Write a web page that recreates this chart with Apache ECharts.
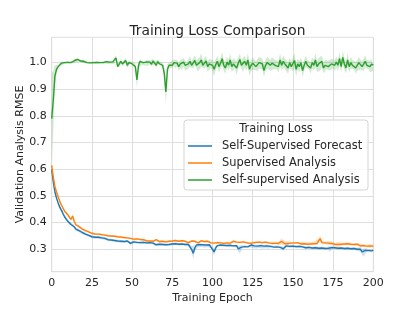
<!DOCTYPE html>
<html><head><meta charset="utf-8">
<script src="https://cdn.jsdelivr.net/npm/echarts@6/dist/echarts.min.js"></script>
<style>html,body{margin:0;padding:0;background:#fff}#c{width:415px;height:312px}</style>
</head><body><div id="c"></div>
<script>
// ---------- data ----------
const xTicks = [0, 25, 50, 75, 100, 125, 150, 175, 200];
const yTicks = [0.3, 0.4, 0.5, 0.6, 0.7, 0.8, 0.9, 1.0];
const seriesNames = ['Self-Supervised Forecast', 'Supervised Analysis', 'Self-supervised Analysis'];

const blueVals = [
0.6,0.552,0.515,0.492,0.474,0.458,0.447,0.434,0.422,0.416,
0.405,0.399,0.393,0.396,0.384,0.376,0.374,0.37,0.366,0.363,
0.36,0.357,0.354,0.352,0.35,0.347,0.348,0.345,0.343,0.345,
0.341,0.343,0.339,0.341,0.338,0.336,0.339,0.335,0.337,0.333,
0.335,0.331,0.334,0.33,0.333,0.329,0.326,0.331,0.327,0.322,
0.325,0.328,0.323,0.326,0.321,0.325,0.322,0.326,0.32,0.324,
0.321,0.325,0.319,0.323,0.32,0.317,0.322,0.319,0.323,0.318,
0.321,0.317,0.322,0.318,0.315,0.32,0.317,0.321,0.316,0.319,
0.315,0.32,0.316,0.318,0.314,0.318,0.312,0.3,0.285,0.305,
0.316,0.313,0.318,0.314,0.317,0.312,0.316,0.313,0.317,0.311,
0.3,0.29,0.305,0.314,0.311,0.316,0.312,0.315,0.31,0.314,
0.311,0.315,0.309,0.313,0.31,0.314,0.302,0.296,0.308,0.313,
0.31,0.314,0.309,0.313,0.316,0.31,0.313,0.308,0.312,0.31,
0.314,0.308,0.312,0.309,0.313,0.307,0.311,0.314,0.308,0.312,
0.309,0.313,0.307,0.311,0.302,0.309,0.313,0.307,0.311,0.308,
0.312,0.306,0.31,0.307,0.311,0.305,0.309,0.312,0.306,0.31,
0.307,0.311,0.305,0.309,0.306,0.31,0.304,0.308,0.305,0.309,
0.303,0.307,0.304,0.298,0.306,0.302,0.306,0.3,0.304,0.301,
0.305,0.299,0.303,0.3,0.304,0.298,0.302,0.299,0.303,0.297,
0.3,0.296,0.3,0.29,0.284,0.296,0.299,0.295,0.298,0.294,0.297];
const blueBand = [
0.012,0.01,0.008,0.007,0.007,0.007,0.007,0.007,0.007,0.007,
0.007,0.007,0.007,0.007,0.007,0.006,0.006,0.006,0.006,0.006,
0.005,0.005,0.005,0.005,0.005,0.005,0.005,0.005,0.005,0.005,
0.005,0.005,0.005,0.005,0.005,0.005,0.005,0.005,0.005,0.005,
0.005,0.005,0.005,0.005,0.005,0.005,0.006,0.005,0.005,0.006,
0.005,0.005,0.005,0.005,0.005,0.005,0.005,0.005,0.005,0.005,
0.005,0.005,0.005,0.005,0.005,0.005,0.005,0.005,0.005,0.005,
0.005,0.005,0.005,0.005,0.005,0.005,0.005,0.005,0.005,0.005,
0.005,0.005,0.005,0.005,0.005,0.006,0.008,0.012,0.02,0.01,
0.006,0.005,0.005,0.005,0.005,0.005,0.005,0.005,0.005,0.006,
0.01,0.012,0.008,0.005,0.005,0.005,0.005,0.005,0.005,0.005,
0.005,0.005,0.005,0.005,0.005,0.006,0.01,0.012,0.006,0.005,
0.005,0.005,0.005,0.005,0.005,0.005,0.005,0.005,0.005,0.005,
0.005,0.005,0.005,0.005,0.005,0.005,0.005,0.005,0.005,0.005,
0.005,0.005,0.006,0.006,0.008,0.006,0.005,0.005,0.005,0.005,
0.005,0.005,0.005,0.005,0.005,0.005,0.005,0.005,0.005,0.005,
0.005,0.005,0.005,0.005,0.005,0.005,0.006,0.006,0.005,0.005,
0.005,0.005,0.006,0.008,0.006,0.005,0.005,0.006,0.005,0.005,
0.005,0.006,0.005,0.006,0.005,0.006,0.005,0.006,0.005,0.006,
0.006,0.006,0.008,0.01,0.012,0.008,0.006,0.006,0.006,0.006,0.006];

const orangeVals = [
0.615,0.57,0.535,0.515,0.497,0.48,0.466,0.455,0.443,0.436,
0.43,0.42,0.412,0.425,0.405,0.392,0.388,0.385,0.38,0.376,
0.373,0.37,0.366,0.365,0.362,0.36,0.358,0.357,0.356,0.357,
0.354,0.355,0.352,0.353,0.35,0.351,0.348,0.35,0.346,0.349,
0.345,0.347,0.343,0.346,0.341,0.344,0.34,0.343,0.339,0.341,
0.337,0.338,0.336,0.339,0.335,0.337,0.333,0.336,0.334,0.332,
0.335,0.331,0.334,0.33,0.333,0.336,0.331,0.329,0.333,0.33,
0.334,0.328,0.332,0.33,0.327,0.331,0.329,0.333,0.327,0.33,
0.328,0.332,0.326,0.33,0.328,0.325,0.329,0.331,0.326,0.33,
0.327,0.324,0.328,0.332,0.326,0.329,0.325,0.33,0.327,0.324,
0.328,0.323,0.327,0.325,0.329,0.324,0.327,0.322,0.326,0.324,
0.328,0.323,0.326,0.33,0.324,0.327,0.322,0.326,0.324,0.328,
0.323,0.325,0.327,0.322,0.326,0.324,0.321,0.326,0.323,0.327,
0.322,0.325,0.323,0.327,0.321,0.324,0.326,0.322,0.325,0.323,
0.328,0.322,0.326,0.33,0.324,0.321,0.325,0.322,0.326,0.323,
0.32,0.324,0.321,0.325,0.322,0.32,0.324,0.321,0.323,0.319,
0.323,0.32,0.324,0.321,0.326,0.322,0.332,0.34,0.325,0.321,
0.324,0.32,0.323,0.319,0.322,0.325,0.319,0.322,0.318,0.322,
0.319,0.315,0.32,0.317,0.321,0.316,0.319,0.314,0.318,0.315,
0.319,0.316,0.313,0.317,0.314,0.316,0.312,0.315,0.313,0.316,0.312];
const orangeBand = [
0.01,0.008,0.007,0.006,0.006,0.006,0.006,0.006,0.006,0.006,
0.006,0.006,0.006,0.008,0.006,0.005,0.005,0.005,0.005,0.005,
0.004,0.004,0.004,0.004,0.004,0.004,0.004,0.004,0.004,0.004,
0.004,0.004,0.004,0.004,0.004,0.004,0.004,0.004,0.004,0.004,
0.004,0.004,0.004,0.004,0.004,0.004,0.004,0.004,0.004,0.004,
0.004,0.004,0.004,0.004,0.004,0.004,0.004,0.004,0.004,0.004,
0.004,0.004,0.004,0.004,0.004,0.004,0.004,0.004,0.004,0.004,
0.004,0.004,0.004,0.004,0.004,0.004,0.004,0.004,0.004,0.004,
0.004,0.004,0.004,0.004,0.004,0.004,0.004,0.004,0.004,0.004,
0.004,0.004,0.004,0.004,0.004,0.004,0.004,0.004,0.004,0.004,
0.004,0.004,0.004,0.004,0.004,0.004,0.004,0.004,0.004,0.004,
0.004,0.004,0.004,0.005,0.004,0.004,0.004,0.004,0.004,0.004,
0.004,0.004,0.004,0.004,0.004,0.004,0.004,0.004,0.004,0.004,
0.004,0.004,0.004,0.004,0.004,0.004,0.004,0.004,0.004,0.004,
0.005,0.006,0.008,0.012,0.01,0.008,0.006,0.005,0.004,0.004,
0.004,0.004,0.004,0.004,0.004,0.004,0.004,0.004,0.004,0.004,
0.004,0.004,0.004,0.005,0.006,0.006,0.01,0.012,0.006,0.004,
0.005,0.006,0.008,0.01,0.008,0.006,0.006,0.008,0.01,0.008,
0.006,0.006,0.005,0.005,0.006,0.005,0.005,0.006,0.005,0.005,
0.005,0.005,0.006,0.005,0.005,0.006,0.005,0.005,0.006,0.005,0.005];

const greenVals = [
0.79,0.86,0.95,0.975,0.985,0.992,0.998,0.996,1.0,1.003,
1.001,1.004,1.0,1.003,1.007,1.005,1.012,1.008,1.006,1.004,
1.005,1.002,1.0,1.001,0.999,1.0,1.0,0.999,1.001,1.0,
1.0,1.002,1.0,1.001,1.004,0.999,1.002,0.998,1.003,1.0,
1.018,0.985,0.99,1.005,0.995,1.0,1.008,0.99,1.0,1.005,
0.995,1.002,0.985,0.935,0.99,1.005,0.998,1.0,0.995,1.003,
0.996,1.002,0.994,1.006,1.0,0.99,1.004,0.995,1.0,0.99,
0.96,0.89,0.975,0.99,0.995,0.99,1.0,0.993,0.998,0.985,
0.995,0.99,1.002,0.99,0.985,0.995,1.005,0.99,0.997,1.008,
0.99,0.985,1.0,1.01,0.99,0.998,1.006,0.985,0.995,1.0,
0.99,0.975,0.992,1.005,0.985,0.998,1.015,0.99,0.98,1.002,
0.99,1.01,0.985,0.995,1.0,0.98,0.998,1.012,0.99,0.985,
1.005,0.99,1.01,0.975,0.99,0.998,0.995,0.985,0.99,1.0,
1.002,0.995,0.97,0.99,1.0,0.995,0.99,0.998,1.0,0.99,
0.995,0.985,1.01,0.99,1.005,0.995,0.99,0.98,1.0,0.985,
0.99,1.008,0.975,0.995,0.985,1.0,0.97,0.99,1.005,0.99,
0.995,0.98,1.0,0.99,1.01,0.985,0.995,0.99,1.005,0.98,
0.99,0.995,0.985,0.99,0.995,1.0,0.99,1.002,0.99,1.015,
0.985,1.02,0.995,0.98,1.01,0.985,1.0,0.99,0.995,0.98,
0.99,1.0,0.995,0.985,0.99,1.005,0.99,0.995,0.985,0.995,0.99];
const greenBand = [
0.17,0.11,0.04,0.015,0.006,0.005,0.004,0.004,0.004,0.004,
0.004,0.004,0.004,0.004,0.004,0.004,0.004,0.004,0.004,0.004,
0.004,0.004,0.004,0.004,0.004,0.004,0.004,0.004,0.004,0.004,
0.004,0.004,0.004,0.004,0.004,0.004,0.004,0.004,0.004,0.004,
0.01,0.01,0.008,0.008,0.008,0.006,0.008,0.01,0.008,0.006,
0.008,0.008,0.012,0.03,0.012,0.008,0.006,0.008,0.006,0.008,
0.008,0.006,0.008,0.008,0.006,0.01,0.008,0.008,0.006,0.01,
0.025,0.045,0.02,0.01,0.008,0.01,0.012,0.015,0.012,0.015,
0.015,0.018,0.015,0.02,0.015,0.018,0.02,0.015,0.02,0.018,
0.02,0.018,0.02,0.025,0.018,0.02,0.02,0.018,0.02,0.02,
0.02,0.025,0.02,0.02,0.022,0.02,0.025,0.02,0.022,0.02,
0.02,0.025,0.02,0.022,0.02,0.025,0.02,0.022,0.02,0.02,
0.022,0.02,0.025,0.025,0.02,0.02,0.022,0.02,0.02,0.022,
0.02,0.02,0.025,0.02,0.022,0.02,0.02,0.022,0.025,0.02,
0.02,0.022,0.025,0.02,0.022,0.02,0.025,0.022,0.02,0.02,
0.022,0.025,0.025,0.02,0.022,0.02,0.025,0.02,0.022,0.02,
0.02,0.022,0.02,0.02,0.025,0.02,0.022,0.02,0.022,0.02,
0.02,0.02,0.022,0.02,0.02,0.022,0.02,0.02,0.022,0.025,
0.02,0.025,0.022,0.02,0.025,0.02,0.022,0.02,0.02,0.022,
0.02,0.02,0.022,0.02,0.02,0.022,0.02,0.02,0.022,0.02,0.02];

const epochs = blueVals.map((_, i) => String(i));

// ---------- chart ----------
const FONT = 'DejaVu Sans';
const TXT = '#262626';
const GRID = '#dedede';
const colors = ['#1f77b4', '#ff7f0e', '#2ca02c'];
const valsList = [blueVals, orangeVals, greenVals];
const bandList = [blueBand, orangeBand, greenBand];

const series = [];
valsList.forEach((vals, k) => {
  const band = bandList[k];
  series.push({
    type: 'line', stack: 'band' + k, symbol: 'none', silent: true,
    lineStyle: { opacity: 0 },
    data: vals.map((v, i) => +(v - band[i]).toFixed(4))
  });
  series.push({
    type: 'line', stack: 'band' + k, symbol: 'none', silent: true,
    lineStyle: { opacity: 0 },
    areaStyle: { color: colors[k], opacity: 0.22 },
    data: band.map(b => +(2 * b).toFixed(4))
  });
});
valsList.forEach((vals, k) => {
  series.push({
    name: seriesNames[k], type: 'line', symbol: 'none', silent: true,
    lineStyle: { color: colors[k], width: 1.4 },
    itemStyle: { color: colors[k] },
    data: vals
  });
});

const chart = echarts.init(document.getElementById('c'), null, { renderer: 'canvas' });
chart.setOption({
  animation: false,
  backgroundColor: '#fff',
  textStyle: { fontFamily: FONT },
  title: {
    text: 'Training Loss Comparison', left: 212.5, top: 19, textAlign: 'center',
    textStyle: { fontFamily: FONT, fontSize: 13.8, fontWeight: 'normal', color: TXT }
  },
  grid: { left: 51.7, right: 41.7, top: 37.3, bottom: 40.3, containLabel: false,
          show: true, borderColor: GRID, borderWidth: 1, backgroundColor: 'transparent' },
  xAxis: {
    type: 'category', data: epochs, boundaryGap: false,
    name: 'Training Epoch', nameLocation: 'middle', nameGap: 21, nameMoveOverlap: false,
    nameTextStyle: { fontFamily: FONT, fontSize: 11, color: TXT },
    axisLine: { show: true, lineStyle: { color: GRID, width: 1 } },
    axisTick: { show: false },
    axisLabel: {
      interval: (idx, val) => xTicks.includes(+val),
      margin: 6, fontFamily: FONT, fontSize: 11, color: TXT
    },
    splitLine: { show: true, interval: (idx, val) => xTicks.includes(+val), lineStyle: { color: GRID, width: 1 } }
  },
  yAxis: {
    type: 'value', min: 0.216, max: 1.095,
    name: 'Validation Analysis RMSE', nameLocation: 'middle', nameGap: 26, nameMoveOverlap: false,
    nameTextStyle: { fontFamily: FONT, fontSize: 11, color: TXT },
    axisLine: { show: true, lineStyle: { color: GRID, width: 1 } },
    axisTick: { show: false, customValues: yTicks },
    axisLabel: {
      customValues: yTicks, margin: 5, fontFamily: FONT, fontSize: 11, color: TXT,
      formatter: v => v.toFixed(1)
    },
    splitLine: { show: true, lineStyle: { color: GRID, width: 1 } }
  },
  legend: {
    data: seriesNames, orient: 'vertical', left: 188, top: 139, padding: 0,
    icon: 'rect', itemWidth: 24, itemHeight: 2, itemGap: 3,
    itemStyle: { opacity: 0.75 },
    textStyle: { fontFamily: FONT, fontSize: 11.4, color: TXT, lineHeight: 14, padding: [0, 0, 0, 5] },
    selectedMode: false, z: 6
  },
  graphic: [
    { type: 'rect', z: 5, shape: { x: 184, y: 120, width: 184, height: 70, r: 3 },
      style: { fill: 'rgba(255,255,255,0.85)', stroke: '#d4d4d4', lineWidth: 1 } },
    { type: 'text', z: 6, x: 276, y: 129,
      style: { text: 'Training Loss', fill: TXT, font: '11.4px "DejaVu Sans"', textAlign: 'center', textVerticalAlign: 'middle' } }
  ],
  series: series
});
</script></body></html>
